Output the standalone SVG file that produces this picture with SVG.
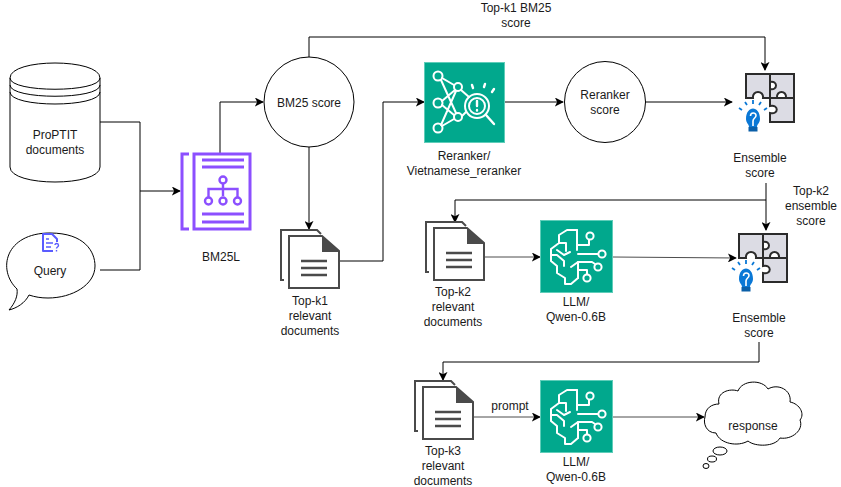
<svg xmlns="http://www.w3.org/2000/svg" width="841" height="487" viewBox="0 0 841 487">
<style>
text{font-family:"Liberation Sans",Arial,sans-serif;font-size:12px;fill:#1a1a1a;text-anchor:middle}
.s{fill:#fff;stroke:#000;stroke-width:1}
.c{fill:none;stroke:#000;stroke-width:1}
.g{fill:none;stroke:#4d4d4d;stroke-width:1}
.p{fill:none;stroke:#8c4fff;stroke-width:3}
.w{fill:none;stroke:#fff;stroke-width:2;stroke-linecap:round;stroke-linejoin:round}
.d{fill:#fff;stroke:#4a4a4a;stroke-width:2}
.pz{fill:#dcdce4;stroke:#2b2b2b;stroke-width:2}
</style>
<defs>
<marker id="a" viewBox="0 0 10 10" refX="9" refY="5" markerWidth="9" markerHeight="9" orient="auto" markerUnits="userSpaceOnUse"><path d="M0 0L10 5L0 10L2.500 5Z" fill="#000"/></marker>
<symbol id="docs" viewBox="0 0 60 60" width="60" height="60" overflow="visible">
<path d="M4 51H1V1H37L41 5" fill="none" stroke="#4a4a4a" stroke-width="2"/>
<path d="M9 59V7H42L59 22V59Z" class="d"/>
<path d="M42 7L60 23H42Z" fill="#4a4a4a"/>
<path d="M21 32H47M21 39H47M21 46H47" stroke="#4a4a4a" stroke-width="2.400" fill="none"/>
</symbol>
<symbol id="puzzle" viewBox="0 0 60 62" width="60" height="62" overflow="visible">
<path class="pz" d="M8 2H32V26H25C26 18 14 18 15 26H8Z"/>
<path class="pz" d="M32 2H56V26H48C49 18 38 18 39 26H32V17C40 19 40 8 32 10Z"/>
<path class="pz" d="M32 26H56V50H32V41C41 43 41 32 32 34Z"/>
<path d="M8 47C8 33 22 33 22 47C22 51 19 52 19 55H11C11 52 8 51 8 47Z" fill="#0a78d6"/>
<rect x="10.500" y="55" width="9" height="4.500" fill="#0a5fa8"/>
<path d="M12.500 44C12.500 40 18 40 18 43.500C18 46 15 46 15 49V54" fill="none" stroke="#fff" stroke-width="1.600"/>
<path d="M15 28V32M7 30L9 33M23 30L21 33M1 36L4 38M29 36L26 38" stroke="#0a78d6" stroke-width="1.800" fill="none"/>
</symbol>
<symbol id="llm" viewBox="0 0 73 73" width="73" height="73" overflow="visible">
<rect x=".5" y=".5" width="72" height="72" fill="#01a88d" stroke="#5fcdb9"/>
<g class="w">
<path d="M37 10H27L19 15V23L11 29V41L17 46V53L25 58V64H31L38 58"/>
<path d="M37 10V30M38 58V42L31 47M19 23H26V31M11 35H17L24 41V46M17 30L24 35M24 35L30 32"/>
<path d="M38 25H49V20"/><circle cx="50" cy="16" r="3.600"/>
<path d="M38 34H58"/><circle cx="62" cy="34" r="3.600"/>
<path d="M38 42H52L55 44"/><circle cx="58" cy="47" r="3.600"/>
<path d="M38 50H47V54"/><circle cx="47" cy="58" r="3.600"/>
</g>
</symbol>
</defs>
<g id="connectors">
<path class="c" d="M100 122H140V191M100 270H140V191H180" marker-end="url(#a)"/>
<path class="c" d="M220 153V102H263" marker-end="url(#a)"/>
<path class="c" d="M309 57V37H765V70" marker-end="url(#a)"/>
<path class="c" d="M309 147V229" marker-end="url(#a)"/>
<path class="c" d="M340 261H383V102H424" marker-end="url(#a)"/>
<path class="c" d="M504 102H563" marker-end="url(#a)"/>
<path class="c" d="M645 102H732" marker-end="url(#a)"/>
<path class="c" d="M766 183V230" marker-end="url(#a)"/>
<path class="c" d="M766 200H455V222" marker-end="url(#a)"/>
<path class="g" d="M484 257H540" marker-end="url(#a)"/>
<path class="g" d="M613 257L736 258" marker-end="url(#a)"/>
<path class="c" d="M759 342V362H443V380" marker-end="url(#a)"/>
<path class="g" d="M474 417H540" marker-end="url(#a)"/>
<path class="g" d="M613 417L704 417" marker-end="url(#a)"/>
</g>
<g id="proptit">
<path class="s" d="M10 78C10 58 100 58 100 78V167C100 187 10 187 10 167Z"/>
<path class="c" d="M10 78C10 93 100 93 100 78M10 85C10 100 100 100 100 85M10 92C10 108 100 108 100 92"/>
<text x="55" y="139">ProPTIT</text><text x="55" y="154">documents</text>
</g>
<g id="query">
<path class="s" d="M17 289C-3 270 5 233 50 233C85 233 95 252 95 266C95 285 72 298 48 298C41 298 35 297 29 295C25 303 17 308 9 310C15 303 18 296 17 289Z"/>
<path d="M53 251H43V234H52L57 239V242" fill="#fff" stroke="#5a5cff" stroke-width="2" stroke-linejoin="round"/>
<path d="M46 239H49M46 243H53M46 247H51M55 245C55 243 58.500 243 58.500 245.500C58.500 247 56.500 247 56.500 248.500M56.500 250V251.500" fill="none" stroke="#5a5cff" stroke-width="1.400"/>
<text x="50" y="275">Query</text>
</g>
<g id="bm25l">
<path class="p" d="M189 154H182V229H189"/>
<rect class="p" x="194" y="154" width="56" height="75"/>
<path class="p" d="M202 160H244M202 167H244M202 214H244M202 222H244"/>
<path d="M223 184V196M208.500 197V189H237.500V197" fill="none" stroke="#8c4fff" stroke-width="2.400"/>
<g fill="#fff" stroke="#8c4fff" stroke-width="2.400"><circle cx="223" cy="180" r="3.500"/><circle cx="208.500" cy="201" r="3.500"/><circle cx="223" cy="201" r="3.500"/><circle cx="237.500" cy="201" r="3.500"/></g>
<text x="221" y="261">BM25L</text>
</g>
<g id="bm25score"><circle class="s" cx="309" cy="102" r="45"/><text x="309" y="107">BM25 score</text></g>
<g id="topk1docs"><use href="#docs" x="280" y="229"/><text x="310" y="305">Top-k1</text><text x="310" y="320">relevant</text><text x="310" y="335">documents</text></g>
<g id="reranker">
<rect x="424.500" y="62.500" width="80" height="80" fill="#01a88d" stroke="#5fcdb9"/>
<g class="w">
<circle cx="438" cy="76" r="4.500"/><circle cx="438" cy="103" r="4.500"/><circle cx="438" cy="128" r="4.500"/><circle cx="458" cy="87" r="4"/><circle cx="458" cy="117" r="4"/>
<path d="M442 78L454 85M441 80L456 113M442 101L455 90M442 105L454 115M441 125L456 91M442 126L454 119M461 90L469 97M462 116L466 112"/>
<circle cx="477" cy="106" r="12"/><circle cx="477" cy="106" r="8"/><path d="M486 115L494 124M477 101V106M477 110V110.500M473 88L472 85M484 87L485 84M492 92L494 89" stroke-width="2.400"/>
</g>
<text x="464" y="160">Reranker/</text><text x="464" y="175">Vietnamese_reranker</text>
</g>
<g id="rerankerscore"><circle class="s" cx="605" cy="102" r="40.500"/><text x="605" y="99">Reranker</text><text x="605" y="114">score</text></g>
<g id="ensemble1"><use href="#puzzle" x="738" y="72"/><text x="760" y="162">Ensemble</text><text x="760" y="177">score</text></g>
<g id="topk2docs"><use href="#docs" x="425" y="221"/><text x="453" y="296">Top-k2</text><text x="453" y="311">relevant</text><text x="453" y="326">documents</text></g>
<g id="llm1"><use href="#llm" x="540" y="220"/><text x="576" y="306">LLM/</text><text x="576" y="321">Qwen-0.6B</text></g>
<g id="ensemble2"><use href="#puzzle" x="731" y="232"/><text x="759" y="322">Ensemble</text><text x="759" y="337">score</text></g>
<g id="topk3docs"><use href="#docs" x="414" y="380"/><text x="443" y="455">Top-k3</text><text x="443" y="470">relevant</text><text x="443" y="485">documents</text></g>
<g id="llm2"><use href="#llm" x="540" y="380"/><text x="576" y="466">LLM/</text><text x="576" y="481">Qwen-0.6B</text></g>
<g id="response">
<path class="s" d="M705 417C705 408 712 404 719 404C716 392 730 388 738 391C742 380 762 379 768 389C778 383 792 390 790 402C800 404 805 414 800 420C804 430 792 440 780 438C775 447 755 447 748 441C738 447 720 444 716 433C706 433 703 423 705 417Z"/>
<ellipse class="s" cx="720" cy="451" rx="7" ry="4"/><ellipse class="s" cx="712" cy="459" rx="4.500" ry="3"/><ellipse class="s" cx="706" cy="466" rx="3" ry="2.500"/>
<text x="753" y="430">response</text>
</g>
<g id="labels">
<text x="516" y="12">Top-k1 BM25</text><text x="516" y="27">score</text>
<text x="811" y="195">Top-k2</text><text x="811" y="210">ensemble</text><text x="811" y="225">score</text>
<text x="510" y="410">prompt</text>
</g>
</svg>
